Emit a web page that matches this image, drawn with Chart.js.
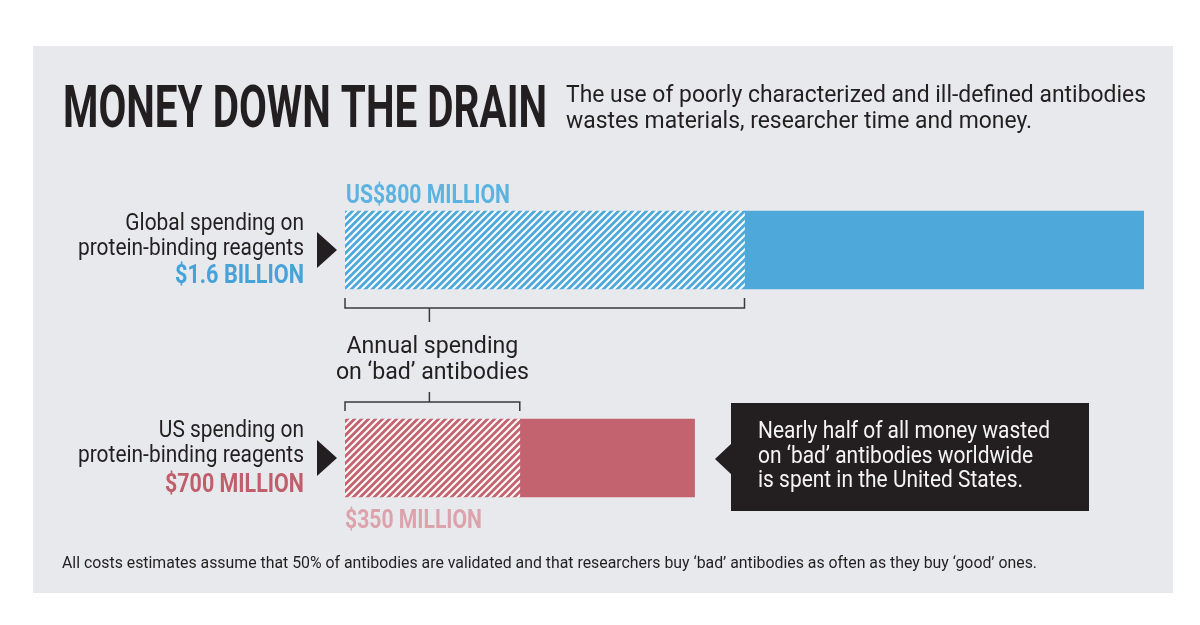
<!DOCTYPE html>
<html>
<head>
<meta charset="utf-8">
<script src="https://cdn.jsdelivr.net/npm/chart.js@4"></script>
<style>
html,body{margin:0;padding:0;background:#fff}
#wrap{width:1200px;height:625px}
</style>
</head>
<body>
<div id="wrap"><canvas id="chart" width="1200" height="625"></canvas></div>
<script>
// values in US$ million
const categories = ['Global', 'US']
const badSpend = [800, 350]     // annual spending on 'bad' antibodies
const otherSpend = [800, 350]   // rest of protein-binding reagent spending
const xMax = 1600
const rowLabels = [['Global spending on', 'protein-binding reagents'], ['US spending on', 'protein-binding reagents']]
const totalLabels = ['$1.6 BILLION', '$700 MILLION']
const badLabels = ['US$800 MILLION', '$350 MILLION']

const INK = '#231f20'
const BLUE = '#4ea8da', PINK = '#c2636f'
const FONT = 'Roboto, "Liberation Sans", sans-serif'

function hatch(color){
	const s = 7
	const c = document.createElement('canvas'); c.width = s; c.height = s
	const g = c.getContext('2d')
	g.fillStyle = color; g.fillRect(0,0,s,s)
	g.strokeStyle = 'rgba(255,255,255,0.95)'; g.lineWidth = 2.2
	g.beginPath()
	g.moveTo(0,s); g.lineTo(s,0)
	g.moveTo(-1,1); g.lineTo(1,-1)
	g.moveTo(s-1,s+1); g.lineTo(s+1,s-1)
	g.stroke()
	return document.getElementById('chart').getContext('2d').createPattern(c,'repeat')
}

// draws text squeezed horizontally, either to width w or by factor k; returns the factor used
function txt(ctx, str, x, y, font, color, align, w, k){
	ctx.save()
	ctx.font = font; ctx.fillStyle = color; ctx.textBaseline = 'alphabetic'; ctx.textAlign = align || 'left'
	if(!k) k = w ? w/ctx.measureText(str).width : 1
	ctx.translate(x, y); ctx.scale(k, 1)
	ctx.fillText(str, 0, 0)
	ctx.restore()
	return k
}

function tri(ctx, pts, color){
	ctx.fillStyle = color
	ctx.beginPath(); ctx.moveTo(pts[0][0], pts[0][1])
	pts.slice(1).forEach(p => ctx.lineTo(p[0], p[1]))
	ctx.closePath(); ctx.fill()
}

const deco = {
	id: 'deco',
	beforeDraw(chart){
		const ctx = chart.ctx
		ctx.save()
		ctx.fillStyle = '#fff'; ctx.fillRect(0,0,chart.width,chart.height)
		ctx.fillStyle = '#e7e9ec'; ctx.fillRect(33,46,1140,547)
		ctx.restore()
	},
	afterDatasetsDraw(chart){
		const ctx = chart.ctx, xs = chart.scales.x
		const bars = chart.getDatasetMeta(0).data
		const x0 = xs.getPixelForValue(0)
		const g = bars[0], u = bars[1]
		const gTop = g.y - g.height/2, gBot = g.y + g.height/2
		const uTop = u.y - u.height/2, uBot = u.y + u.height/2
		const gBad = xs.getPixelForValue(badSpend[0]), uBad = xs.getPixelForValue(badSpend[1])

		// title + standfirst
		txt(ctx, 'MONEY DOWN THE DRAIN', 63, 127, '700 59px ' + FONT, INK, 'left', 484)
		let k = txt(ctx, 'The use of poorly characterized and ill-defined antibodies', 566, 102, '400 24px ' + FONT, INK, 'left', 580)
		txt(ctx, 'wastes materials, researcher time and money.', 566, 128, '400 24px ' + FONT, INK, 'left', 0, k)

		// row labels
		k = txt(ctx, rowLabels[0][1], 304, 255, '400 24px ' + FONT, INK, 'right', 226)
		txt(ctx, rowLabels[0][0], 304, 230, '400 24px ' + FONT, INK, 'right', 0, k)
		txt(ctx, totalLabels[0], 304, 283, '700 25px ' + FONT, '#45a3d9', 'right', 129)
		txt(ctx, rowLabels[1][0], 304, 437, '400 24px ' + FONT, INK, 'right', 0, k)
		txt(ctx, rowLabels[1][1], 304, 462, '400 24px ' + FONT, INK, 'right', 0, k)
		txt(ctx, totalLabels[1], 304, 492, '700 25px ' + FONT, '#c15e6c', 'right', 139)

		// arrows
		tri(ctx, [[317, g.y-18], [337, g.y], [317, g.y+18]], INK)
		tri(ctx, [[317, u.y-18], [337, u.y], [317, u.y+18]], INK)

		// bad-spend values
		txt(ctx, badLabels[0], x0+1, gTop-8, '700 25px ' + FONT, '#5cb3e0', 'left', 164)
		txt(ctx, badLabels[1], x0, uBot+31, '700 25px ' + FONT, '#dca3ad', 'left', 137)

		// brackets
		const stem = (x0 + uBad)/2 - 3
		ctx.save()
		ctx.strokeStyle = '#3a3a3a'; ctx.lineWidth = 1.5
		ctx.beginPath()
		ctx.moveTo(x0, gBot+9); ctx.lineTo(x0, gBot+19); ctx.lineTo(gBad, gBot+19); ctx.lineTo(gBad, gBot+9)
		ctx.moveTo(stem, gBot+19); ctx.lineTo(stem, gBot+33)
		ctx.moveTo(x0, uTop-8); ctx.lineTo(x0, uTop-17); ctx.lineTo(uBad, uTop-17); ctx.lineTo(uBad, uTop-8)
		ctx.moveTo(stem, uTop-17); ctx.lineTo(stem, uTop-27)
		ctx.stroke()
		ctx.restore()
		k = txt(ctx, 'on \u2018bad\u2019 antibodies', stem+3, 379, '400 23px ' + FONT, INK, 'center', 193)
		txt(ctx, 'Annual spending', stem+3, 353, '400 23px ' + FONT, INK, 'center', 0, k)

		// callout
		ctx.fillStyle = INK
		ctx.fillRect(731, 403, 358, 108)
		tri(ctx, [[732, u.y-15], [715, u.y+1], [732, u.y+17]], INK)
		k = txt(ctx, 'Nearly half of all money wasted', 758, 438, '400 23px ' + FONT, '#f4f4f4', 'left', 292)
		txt(ctx, 'on \u2018bad\u2019 antibodies worldwide', 758, 463, '400 23px ' + FONT, '#f4f4f4', 'left', 0, k)
		txt(ctx, 'is spent in the United States.', 758, 487, '400 23px ' + FONT, '#f4f4f4', 'left', 0, k)

		// footnote
		txt(ctx, 'All costs estimates assume that 50% of antibodies are validated and that researchers buy \u2018bad\u2019 antibodies as often as they buy \u2018good\u2019 ones.', 62, 568, '400 16px ' + FONT, INK, 'left', 975)
	}
}

const ctx = document.getElementById('chart').getContext('2d')
window.__chart = new Chart(ctx, {
	type: 'bar',
	data: {
		labels: categories,
		datasets: [
			{ label: 'bad', data: badSpend, backgroundColor: [hatch(BLUE), hatch(PINK)], barThickness: 78, borderWidth: 0 },
			{ label: 'other', data: otherSpend, backgroundColor: [BLUE, PINK], barThickness: 78, borderWidth: 0 }
		]
	},
	options: {
		indexAxis: 'y',
		responsive: false,
		animation: false,
		layout: { padding: { left: 345, right: 56, top: 146, bottom: 63 } },
		scales: {
			x: { stacked: true, min: 0, max: xMax, display: false },
			y: { stacked: true, display: false }
		},
		plugins: { legend: { display: false }, tooltip: { enabled: false } }
	},
	plugins: [deco]
})
</script>
</body>
</html>
